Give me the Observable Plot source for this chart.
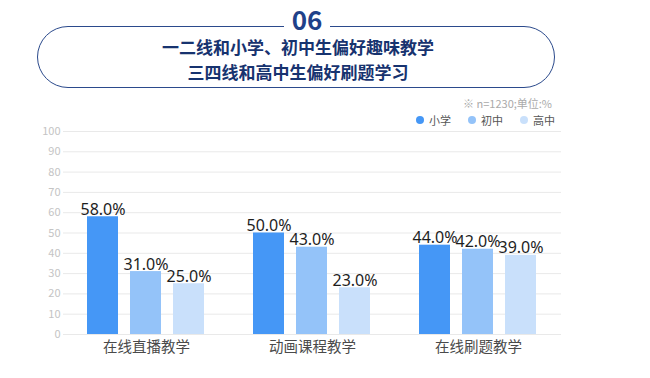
<!DOCTYPE html>
<html>
<head>
<meta charset="utf-8">
<script src="https://cdn.jsdelivr.net/npm/d3@7"></script>
<script src="https://cdn.jsdelivr.net/npm/@observablehq/plot@0.6"></script>
<style>
  body { margin: 0; background: #fff; font-family: "Noto Sans CJK SC", "Noto Sans", sans-serif; }
  #wrap { position: relative; width: 650px; }
  #header { position: relative; width: 650px; height: 120px; }
  #pill { position: absolute; left: 37px; top: 26px; width: 516px; height: 60px; border: 1.5px solid #2b4a8c; border-radius: 32px; }
  #num { position: absolute; left: 0; width: 614px; top: 4px; text-align: center; }
  #num span { background: #fff; padding: 0 8px; font-size: 26px; font-weight: 700; color: #1f4189; line-height: 30px; }
  #t1, #t2 { position: absolute; left: 0; width: 596px; text-align: center; font-size: 17px; font-weight: 700; color: #17336f; line-height: 20px; }
  #t1 { top: 37px; }
  #t2 { top: 62px; }
  #note { position: absolute; right: 98px; top: 96px; font-size: 11px; color: #aaa; line-height: 14px; }
  #legend { position: absolute; left: 416px; top: 113px; font-size: 11px; color: #555; line-height: 14px; display: flex; gap: 0; }
  .item { display: flex; align-items: center; margin-right: 17px; }
  .dot { width: 8px; height: 8px; border-radius: 50%; margin-right: 5px; }
</style>
</head>
<body>
<div id="wrap">
  <div id="header">
    <div id="pill"></div>
    <div id="num"><span>06</span></div>
    <div id="t1">一二线和小学、初中生偏好趣味教学</div>
    <div id="t2">三四线和高中生偏好刷题学习</div>
    <div id="note">※ n=1230;单位:%</div>
    <div id="legend"></div>
  </div>
  <div id="chart"></div>
</div>
<script>
const categories = ["在线直播教学", "动画课程教学", "在线刷题教学"];
const levels = ["小学", "初中", "高中"];
const primary = [58.0, 50.0, 44.0];
const junior = [31.0, 43.0, 42.0];
const senior = [25.0, 23.0, 39.0];
const yTicks = [0, 10, 20, 30, 40, 50, 60, 70, 80, 90, 100];
const colors = ["#4597f6", "#94c3f9", "#c9e0fb"];

const series = [primary, junior, senior];
const data = [];
categories.forEach((c, i) => {
  levels.forEach((l, j) => data.push({cat: c, level: l, value: series[j][i]}));
});

const legend = document.getElementById("legend");
levels.forEach((l, j) => {
  const it = document.createElement("div");
  it.className = "item";
  it.innerHTML = `<span class="dot" style="background:${colors[j]}"></span><span>${l}</span>`;
  legend.appendChild(it);
});

const chart = Plot.plot({
  width: 650,
  height: 258,
  marginTop: 11,
  marginBottom: 44,
  marginLeft: 62,
  marginRight: 89,
  style: {fontFamily: '"Noto Sans CJK SC", "Noto Sans", sans-serif', fontSize: "11px", color: "#c4c4c4", background: "#fff"},
  facet: {data, x: "cat"},
  fx: {domain: categories, padding: 0, axis: null, label: null},
  x: {domain: levels, paddingInner: 0.27, paddingOuter: 0.53, axis: null},
  y: {domain: [0, 100], ticks: yTicks, tickSize: 0, tickPadding: 3, label: null, tickFormat: d => d},
  color: {domain: levels, range: colors},
  marks: [
    Plot.ruleY(yTicks, {stroke: "#e9e9e9", strokeWidth: 1}),
    Plot.barY(data, {x: "level", y: "value", fill: "level"}),
    Plot.text(data, {x: "level", y: "value", text: d => d.value.toFixed(1) + "%", lineAnchor: "bottom", dy: -2, fontSize: 16, fontFamily: '"Noto Sans", sans-serif', fill: "#1e1e1e"}),
    Plot.text(data, Plot.selectFirst({text: "cat", frameAnchor: "bottom", lineAnchor: "top", dy: 7, fontSize: 14.5, fill: "#4a4a4a"}))
  ]
});
document.getElementById("chart").appendChild(chart);
</script>
</body>
</html>
